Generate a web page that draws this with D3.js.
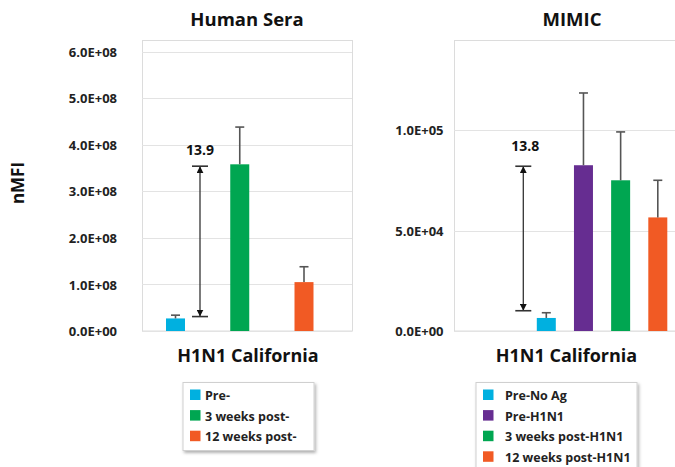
<!DOCTYPE html>
<html><head><meta charset="utf-8">
<script src="https://cdn.jsdelivr.net/npm/d3@7"></script>
<style>
html,body{margin:0;padding:0;background:#fff;}
svg{display:block;font-family:"Open Sans",sans-serif;font-weight:700;}
</style></head>
<body>
<svg id="c" width="675" height="467"></svg>
<script>
// ---- data ----
const seraSeries = ["Pre-", "3 weeks post-", "12 weeks post-"];
const seraValues = [2.7e7, 3.58e8, 1.05e8];
const seraErrTop = [3.4e7, 4.38e8, 1.38e8];
const seraTicks = [0, 1e8, 2e8, 3e8, 4e8, 5e8, 6e8];
const seraArrow = [3.1e7, 3.54e8];
const seraFold = "13.9";

const mimicSeries = ["Pre-No Ag", "Pre-H1N1", "3 weeks post-H1N1", "12 weeks post-H1N1"];
const mimicValues = [6.5e3, 8.26e4, 7.51e4, 5.66e4];
const mimicErrTop = [9.1e3, 1.186e5, 9.92e4, 7.51e4];
const mimicTicks = [0, 5e4, 1e5];
const mimicArrow = [1.01e4, 8.21e4];
const mimicFold = "13.8";

const seraColors = ["#00b0e0", "#00a651", "#f15a24"];
const mimicColors = ["#00b0e0", "#662d91", "#00a651", "#f15a24"];

const fmt = v => v.toExponential(1).toUpperCase().replace(/E([+-])(\d)$/, "E$10$2");

const svg = d3.select("#c");
const defs = svg.append("defs");
const f = defs.append("filter").attr("id","sh").attr("x","-10%").attr("y","-10%").attr("width","130%").attr("height","140%");
f.append("feDropShadow").attr("dx",1.5).attr("dy",2).attr("stdDeviation",1.5).attr("flood-color","#000").attr("flood-opacity",0.3);
const m = defs.append("marker").attr("id","ah").attr("viewBox","0 0 10 10").attr("refX",10).attr("refY",5)
  .attr("markerWidth",7).attr("markerHeight",7).attr("markerUnits","userSpaceOnUse").attr("orient","auto");
m.append("path").attr("d","M0,0L10,5L0,10Z").attr("fill","#111");
const m2 = defs.append("marker").attr("id","ahs").attr("viewBox","0 0 10 10").attr("refX",10).attr("refY",5)
  .attr("markerWidth",7).attr("markerHeight",7).attr("markerUnits","userSpaceOnUse").attr("orient","auto-start-reverse");
m2.append("path").attr("d","M0,0L10,5L0,10Z").attr("fill","#111");

function panel(cfg){
  const g = svg.append("g");
  const y = d3.scaleLinear().domain([0, cfg.ymax]).range([331, 40]);
  const x = d3.scalePoint().domain(cfg.series).range(cfg.xr);
  // frame
  g.append("rect").attr("x",cfg.left+0.5).attr("y",40.5).attr("width",cfg.right-cfg.left).attr("height",290.5)
    .attr("fill","none").attr("stroke","#dcdcdc");
  // grid
  g.selectAll(".gl").data(cfg.ticks).join("line")
    .attr("x1",cfg.left).attr("x2",cfg.right).attr("y1",d=>Math.round(y(d))+0.5).attr("y2",d=>Math.round(y(d))+0.5)
    .attr("stroke","#e3e3e3").attr("stroke-width",1.2);
  // axis labels
  const ax = d3.axisLeft(y).tickValues(cfg.ticks).tickFormat(fmt).tickSize(0).tickPadding(0);
  const ag = g.append("g").attr("transform",`translate(${cfg.labelRight},0)`).call(ax);
  ag.select(".domain").remove();
  ag.selectAll("text").attr("font-size",13).attr("font-family","'Open Sans',sans-serif").attr("font-weight",700).attr("fill","#222").attr("dy","0.35em");
  // bars
  const bw = 19;
  g.selectAll(".bar").data(cfg.values).join("rect")
    .attr("x",(d,i)=>x(cfg.series[i])-bw/2).attr("y",d=>y(d)).attr("width",bw).attr("height",d=>y(0)-y(d))
    .attr("fill",(d,i)=>cfg.colors[i]);
  // error bars
  const eb = g.selectAll(".eb").data(cfg.errTop).join("g").attr("stroke","#555").attr("stroke-width",1.6);
  eb.append("line").attr("x1",(d,i)=>x(cfg.series[i])).attr("x2",(d,i)=>x(cfg.series[i]))
    .attr("y1",(d,i)=>y(cfg.values[i])).attr("y2",d=>y(d));
  eb.append("line").attr("x1",(d,i)=>x(cfg.series[i])-4.5).attr("x2",(d,i)=>x(cfg.series[i])+4.5)
    .attr("y1",d=>y(d)).attr("y2",d=>y(d));
  // fold-change arrow
  const axp = x(cfg.series[0]) + cfg.arrowOff;
  const ag2 = g.append("g").attr("stroke","#333").attr("stroke-width",1.3);
  ag2.append("line").attr("x1",axp).attr("x2",axp).attr("y1",y(cfg.arrow[0])).attr("y2",y(cfg.arrow[1]))
    .attr("marker-end","url(#ah)").attr("marker-start","url(#ahs)");
  cfg.arrow.forEach(v=>{
    ag2.append("line").attr("x1",axp-8).attr("x2",axp+8).attr("y1",y(v)).attr("y2",y(v)).attr("stroke-width",1.6);
  });
  g.append("text").attr("x",axp+cfg.labelOff).attr("y",y(cfg.arrow[1])-cfg.labelUp).attr("text-anchor","middle")
    .attr("font-size",14).attr("fill","#111").text(cfg.fold);
  // title
  g.append("text").attr("x",(cfg.left+cfg.right)/2).attr("y",26).attr("text-anchor","middle")
    .attr("font-size",18.5).attr("fill","#111").text(cfg.title);
  // category label
  g.append("text").attr("x",cfg.catX).attr("y",362).attr("text-anchor","middle")
    .attr("font-size",18).attr("fill","#111").text("H1N1 California");
  // legend
  const lg = g.append("g");
  lg.append("rect").attr("x",cfg.legX).attr("y",382.5).attr("width",cfg.legW).attr("height",cfg.legH)
    .attr("fill","#fff").attr("stroke","#d0d0d0").attr("filter","url(#sh)");
  const rows = lg.selectAll(".lr").data(cfg.series).join("g")
    .attr("transform",(d,i)=>`translate(${cfg.legX+7},${395+i*20.6})`);
  rows.append("rect").attr("x",0).attr("y",-5.5).attr("width",10.5).attr("height",10.5).attr("fill",(d,i)=>cfg.colors[i]);
  rows.append("text").attr("x",cfg.legTextOff).attr("y",5).attr("font-size",12.5).attr("fill","#222").text(d=>d);
  return {x,y};
}

panel({series:seraSeries, values:seraValues, errTop:seraErrTop, ticks:seraTicks, colors:seraColors,
  ymax:6.25e8, left:142, right:352, xr:[175.5,304], labelRight:117, arrow:seraArrow, arrowOff:24.5, labelOff:0, labelUp:11,
  fold:seraFold, title:"Human Sera", catX:248, legX:183, legW:131, legH:68, legTextOff:15});
panel({series:mimicSeries, values:mimicValues, errTop:mimicErrTop, ticks:mimicTicks, colors:mimicColors,
  ymax:1.45e5, left:454, right:690, xr:[546.3,657.8], labelRight:443.5, arrow:mimicArrow, arrowOff:-23, labelOff:2, labelUp:15,
  fold:mimicFold, title:"MIMIC", catX:566.5, legX:476, legW:161, legH:100, legTextOff:22});

svg.append("text").attr("transform","translate(24,183) rotate(-90)").attr("text-anchor","middle")
  .attr("font-size",17).attr("fill","#111").text("nMFI");
</script>
</body></html>
